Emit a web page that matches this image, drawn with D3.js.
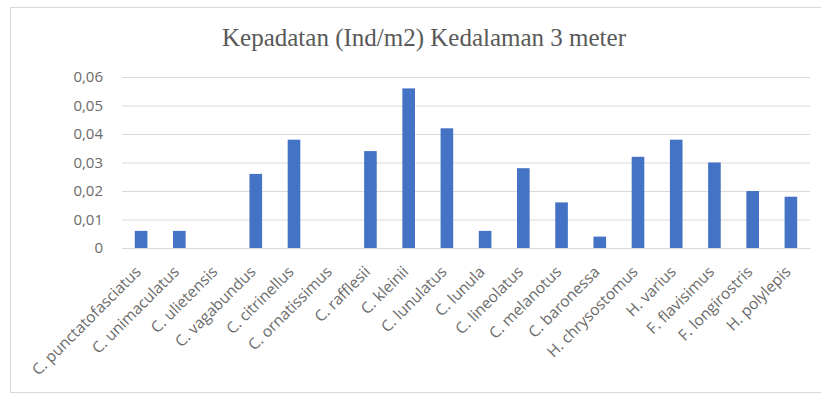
<!DOCTYPE html>
<html>
<head>
<meta charset="utf-8">
<script src="https://cdn.jsdelivr.net/npm/d3@7"></script>
<style>
  html, body { margin: 0; padding: 0; background: #fff; }
  svg { display: block; }
</style>
</head>
<body>
<svg id="chart" width="821" height="394"></svg>
<script>
// Species names (x categories)
const species = [
  "C. punctatofasciatus", "C. unimaculatus", "C. ulietensis", "C. vagabundus",
  "C. citrinellus", "C. ornatissimus", "C. rafflesii", "C. kleinii",
  "C. lunulatus", "C. lunula", "C. lineolatus", "C. melanotus",
  "C. baronessa", "H. chrysostomus", "H. varius", "F. flavisimus",
  "F. longirostris", "H. polylepis"
];
// Density (Ind/m2) at 3 m depth
const density = [
  0.006, 0.006, 0, 0.026,
  0.038, 0, 0.034, 0.056,
  0.042, 0.006, 0.028, 0.016,
  0.004, 0.032, 0.038, 0.030,
  0.020, 0.018
];
// Y axis ticks
const yTicks = [0, 0.01, 0.02, 0.03, 0.04, 0.05, 0.06];
const yTickLabels = ["0", "0,01", "0,02", "0,03", "0,04", "0,05", "0,06"];
const title = "Kepadatan (Ind/m2) Kedalaman 3 meter";

const svg = d3.select("#chart");
const W = 821, H = 394;

// chart frame
svg.append("rect")
  .attr("x", 10.5).attr("y", 7.5)
  .attr("width", W).attr("height", 385)
  .attr("fill", "#fff").attr("stroke", "#d9d9d9");

const plot = { left: 122, right: 810, top: 77, bottom: 248 };

const x = d3.scaleBand()
  .domain(species)
  .range([plot.left, plot.right])
  .paddingInner(0.67).paddingOuter(0.335);

const y = d3.scaleLinear()
  .domain([0, 0.06])
  .range([plot.bottom, plot.top]);

// gridlines
const grid = svg.append("g")
  .attr("transform", `translate(${plot.left},0)`)
  .call(d3.axisLeft(y).tickValues(yTicks).tickSize(-(plot.right - plot.left)).tickFormat(""));
grid.select(".domain").remove();
grid.selectAll("line").attr("stroke", "#d9d9d9").attr("stroke-width", 1);

// y tick labels
const yAxis = svg.append("g")
  .attr("transform", `translate(${plot.left - 19},0)`)
  .call(d3.axisLeft(y).tickValues(yTicks).tickSize(0)
    .tickFormat((d, i) => yTickLabels[i]));
yAxis.select(".domain").remove();
yAxis.selectAll("text")
  .attr("fill", "#6b6b6b")
  .attr("x", 0)
  .style("font-family", "'Open Sans', 'Noto Sans', sans-serif")
  .style("font-size", "15px");

// bars
svg.append("g").selectAll("rect")
  .data(density)
  .join("rect")
  .attr("x", (d, i) => x(species[i]))
  .attr("y", d => y(d))
  .attr("width", x.bandwidth())
  .attr("height", d => y(0) - y(d))
  .attr("fill", "#4472c4");

// x axis
const xAxis = svg.append("g")
  .attr("transform", `translate(0,${plot.bottom})`)
  .call(d3.axisBottom(x).tickSize(0).tickSizeOuter(0));
xAxis.select(".domain").attr("stroke", "#d9d9d9");
xAxis.selectAll("text")
  .attr("fill", "#6b6b6b")
  .attr("y", 0)
  .style("font-family", "'Open Sans', 'Noto Sans', sans-serif")
  .style("font-size", "15.5px")
  .attr("text-anchor", "end")
  .attr("dy", "0.35em")
  .attr("transform", "translate(-3,21) rotate(-45)");

// title
svg.append("text")
  .attr("x", 424).attr("y", 46)
  .attr("text-anchor", "middle")
  .attr("fill", "#595959")
  .style("font-family", "'Liberation Serif', 'DejaVu Serif', serif")
  .style("font-size", "25px")
  .text(title);
</script>
</body>
</html>
